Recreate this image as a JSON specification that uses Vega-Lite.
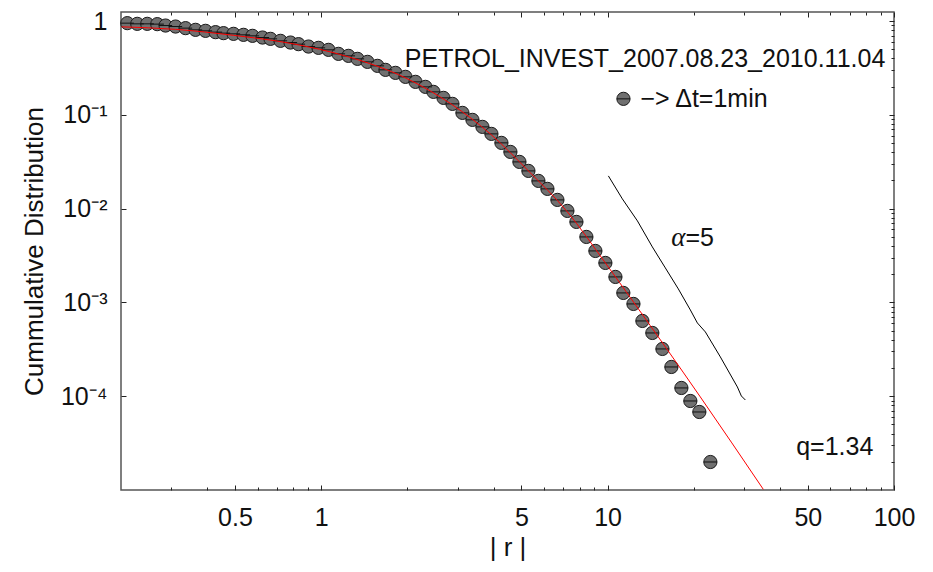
{
  "$schema": "https://vega.github.io/schema/vega-lite/v6.json",
  "width": 773,
  "height": 478,
  "autosize": "none",
  "padding": {"left": 121, "top": 12, "right": 39, "bottom": 82},
  "background": "white",
  "config": {
    "view": {"stroke": "#555555", "strokeWidth": 1.5},
    "axis": {
      "domain": false,
      "grid": false,
      "labelFont": "Liberation Sans",
      "titleFont": "Liberation Sans",
      "labelColor": "#111111",
      "titleColor": "#111111",
      "tickColor": "#222222",
      "tickWidth": 1,
      "labelFontSize": 25,
      "titleFontSize": 26,
      "titleFontWeight": "normal"
    }
  },
  "datasets": {
    "pts": [
      {"r": 0.2104, "p": 0.9508}, {"r": 0.2279, "p": 0.9347}, {"r": 0.2470, "p": 0.9347}, {"r": 0.2677, "p": 0.9279},
      {"r": 0.2861, "p": 0.8965}, {"r": 0.3101, "p": 0.8748}, {"r": 0.3360, "p": 0.8412}, {"r": 0.3641, "p": 0.8067},
      {"r": 0.3946, "p": 0.7870}, {"r": 0.4276, "p": 0.7624}, {"r": 0.4560, "p": 0.7440}, {"r": 0.4942, "p": 0.7311},
      {"r": 0.5355, "p": 0.7134}, {"r": 0.5757, "p": 0.6962}, {"r": 0.6239, "p": 0.6678}, {"r": 0.6653, "p": 0.6467},
      {"r": 0.7210, "p": 0.6158}, {"r": 0.7813, "p": 0.5906}, {"r": 0.8333, "p": 0.5677}, {"r": 0.9030, "p": 0.5352},
      {"r": 0.9786, "p": 0.5185}, {"r": 1.0604, "p": 0.4935}, {"r": 1.149, "p": 0.4473}, {"r": 1.245, "p": 0.4258},
      {"r": 1.339, "p": 0.3957}, {"r": 1.451, "p": 0.3675}, {"r": 1.572, "p": 0.3332}, {"r": 1.677, "p": 0.3020},
      {"r": 1.817, "p": 0.2805}, {"r": 1.969, "p": 0.2543}, {"r": 2.134, "p": 0.2249}, {"r": 2.312, "p": 0.1989},
      {"r": 2.466, "p": 0.1759}, {"r": 2.673, "p": 0.1518}, {"r": 2.873, "p": 0.1310}, {"r": 3.113, "p": 0.1050},
      {"r": 3.374, "p": 0.08846}, {"r": 3.656, "p": 0.07447}, {"r": 3.930, "p": 0.06270}, {"r": 4.259, "p": 0.05028},
      {"r": 4.578, "p": 0.04029}, {"r": 4.922, "p": 0.03152}, {"r": 5.291, "p": 0.02527}, {"r": 5.734, "p": 0.01977},
      {"r": 6.165, "p": 0.01625}, {"r": 6.680, "p": 0.01240}, {"r": 7.239, "p": 0.009462}, {"r": 7.783, "p": 0.007223},
      {"r": 8.433, "p": 0.004995}, {"r": 9.066, "p": 0.003541}, {"r": 9.824, "p": 0.002638}, {"r": 10.65, "p": 0.001871},
      {"r": 11.35, "p": 0.001263}, {"r": 12.31, "p": 0.0009638}, {"r": 13.23, "p": 0.0006349}, {"r": 14.33, "p": 0.0004727},
      {"r": 15.54, "p": 0.0003192}, {"r": 16.70, "p": 0.0002051}, {"r": 18.10, "p": 0.0001225}, {"r": 19.45, "p": 0.00008897},
      {"r": 20.91, "p": 0.00006792}, {"r": 22.85, "p": 0.00001989}
    ],
    "fit": [
      {"r": 0.2009, "p": 0.8683}, {"r": 0.3101, "p": 0.8166}, {"r": 0.4942, "p": 0.7047}, {"r": 0.7813, "p": 0.5790},
      {"r": 1.245, "p": 0.4156}, {"r": 1.969, "p": 0.2481}, {"r": 2.873, "p": 0.1278}, {"r": 3.930, "p": 0.06118},
      {"r": 5.291, "p": 0.02527}, {"r": 7.239, "p": 0.009232}, {"r": 9.824, "p": 0.002638}, {"r": 12.31, "p": 0.001012},
      {"r": 21.08, "p": 0.00009817}, {"r": 34.98, "p": 0.00001015}
    ],
    "alpha": [
      {"r": 10.064, "p": 0.02235}, {"r": 11.26, "p": 0.01271}, {"r": 12.71, "p": 0.007401}, {"r": 14.33, "p": 0.003908},
      {"r": 15.91, "p": 0.002333}, {"r": 17.66, "p": 0.001393}, {"r": 19.45, "p": 0.0008318}, {"r": 20.58, "p": 0.0006043},
      {"r": 21.95, "p": 0.0004844}, {"r": 24.76, "p": 0.0002623}, {"r": 28.39, "p": 0.0001255}, {"r": 29.31, "p": 0.0001006},
      {"r": 30.27, "p": 0.0000912}
    ],
    "legendMark": [{"r": 11.36, "p": 0.1482}],
    "rightText": [
      {"r": 93.24, "p": 0.3210, "t": "PETROL_INVEST_2007.08.23_2010.11.04"},
      {"r": 84.68, "p": 0.00002362, "t": "q=1.34"}
    ],
    "leftText": [
      {"r": 13.02, "p": 0.1217, "t": "−> Δt=1min"},
      {"r": 18.69, "p": 0.004006, "t": "=5"}
    ],
    "greek": [{"r": 18.69, "p": 0.004006, "t": "α"}]
  },
  "resolve": {"axis": {"x": "independent", "y": "independent"}},
  "layer": [
    {
      "data": {"name": "pts"},
      "mark": {"type": "point", "shape": "circle", "filled": true, "size": 175, "fill": "#707070", "stroke": "#1a1a1a", "strokeWidth": 1, "opacity": 1},
      "encoding": {
        "x": {
          "field": "r", "type": "quantitative",
          "scale": {"type": "log", "domain": [0.2, 100], "nice": false, "zero": false},
          "axis": {
            "orient": "bottom",
            "values": [0.5, 1, 5, 10, 50, 100],
            "labelExpr": "datum.value < 1 ? '0.5' : format(datum.value, 'd')",
            "tickSize": -5,
            "labelPadding": 20,
            "labelFlush": false,
            "title": "| r |",
            "titleY": 65,
            "titleBaseline": "alphabetic"
          }
        },
        "y": {
          "field": "p", "type": "quantitative",
          "scale": {"type": "log", "domain": [0.00001, 1.25], "nice": false, "zero": false},
          "axis": {
            "orient": "left",
            "values": [1, 0.1, 0.01, 0.001, 0.0001],
            "labelExpr": "datum.value > 0.5 ? '1' : '10' + '⁻' + ['', '¹', '²', '³', '⁴', '⁵'][round(-log(datum.value) / LN10)]",
            "tickSize": -5,
            "labelPadding": 19,
            "labelFlush": false,
            "title": "Cummulative Distribution",
            "titleX": -79,
            "titleAngle": 270,
            "titleBaseline": "alphabetic"
          }
        }
      }
    },
    {
      "data": {"name": "pts"},
      "mark": {"type": "point", "shape": "M-1,0L1,0", "filled": false, "size": 175, "stroke": "#111111", "strokeWidth": 1, "opacity": 1},
      "encoding": {
        "x": {
          "field": "r", "type": "quantitative",
          "scale": {"type": "log", "domain": [0.2, 100], "nice": false, "zero": false},
          "axis": {
            "orient": "bottom",
            "values": [0.3, 0.4, 0.6, 0.7, 0.8, 0.9, 2, 3, 4, 6, 7, 8, 9, 20, 30, 40, 60, 70, 80, 90],
            "tickSize": -3,
            "labels": false,
            "title": null
          }
        },
        "y": {
          "field": "p", "type": "quantitative",
          "scale": {"type": "log", "domain": [0.00001, 1.25], "nice": false, "zero": false},
          "axis": null
        }
      }
    },
    {
      "data": {"name": "fit"},
      "mark": {"type": "line", "color": "#ff0000", "strokeWidth": 1, "interpolate": "monotone", "clip": true},
      "encoding": {
        "x": {
          "field": "r", "type": "quantitative",
          "scale": {"type": "log", "domain": [0.2, 100], "nice": false, "zero": false},
          "axis": {"orient": "top", "values": [0.5, 1, 5, 10, 50, 100], "tickSize": -5, "labels": false, "title": null}
        },
        "y": {
          "field": "p", "type": "quantitative",
          "scale": {"type": "log", "domain": [0.00001, 1.25], "nice": false, "zero": false},
          "axis": {"orient": "right", "values": [1, 0.1, 0.01, 0.001, 0.0001], "tickSize": -5, "labels": false, "title": null}
        }
      }
    },
    {
      "data": {"name": "alpha"},
      "mark": {"type": "line", "color": "#000000", "strokeWidth": 1},
      "encoding": {
        "x": {
          "field": "r", "type": "quantitative",
          "scale": {"type": "log", "domain": [0.2, 100], "nice": false, "zero": false},
          "axis": {
            "orient": "top",
            "values": [0.3, 0.4, 0.6, 0.7, 0.8, 0.9, 2, 3, 4, 6, 7, 8, 9, 20, 30, 40, 60, 70, 80, 90],
            "tickSize": -3, "labels": false, "title": null
          }
        },
        "y": {
          "field": "p", "type": "quantitative",
          "scale": {"type": "log", "domain": [0.00001, 1.25], "nice": false, "zero": false},
          "axis": {
            "orient": "right",
            "values": [0.00002, 0.00003, 0.00004, 0.00005, 0.00006, 0.00007, 0.00008, 0.00009,
                       0.0002, 0.0003, 0.0004, 0.0005, 0.0006, 0.0007, 0.0008, 0.0009,
                       0.002, 0.003, 0.004, 0.005, 0.006, 0.007, 0.008, 0.009,
                       0.02, 0.03, 0.04, 0.05, 0.06, 0.07, 0.08, 0.09,
                       0.2, 0.3, 0.4, 0.5, 0.6, 0.7, 0.8, 0.9],
            "tickSize": -3, "labels": false, "title": null
          }
        }
      }
    },
    {
      "data": {"name": "legendMark"},
      "mark": {"type": "point", "shape": "circle", "filled": true, "size": 175, "fill": "#707070", "stroke": "#1a1a1a", "strokeWidth": 1, "opacity": 1},
      "encoding": {
        "x": {"field": "r", "type": "quantitative", "scale": {"type": "log", "domain": [0.2, 100], "nice": false, "zero": false}, "axis": null},
        "y": {"field": "p", "type": "quantitative", "scale": {"type": "log", "domain": [0.00001, 1.25], "nice": false, "zero": false}, "axis": null}
      }
    },
    {
      "data": {"name": "legendMark"},
      "mark": {"type": "point", "shape": "M-1,0L1,0", "filled": false, "size": 175, "stroke": "#111111", "strokeWidth": 1, "opacity": 1},
      "encoding": {
        "x": {"field": "r", "type": "quantitative", "scale": {"type": "log", "domain": [0.2, 100], "nice": false, "zero": false}, "axis": null},
        "y": {"field": "p", "type": "quantitative", "scale": {"type": "log", "domain": [0.00001, 1.25], "nice": false, "zero": false}, "axis": null}
      }
    },
    {
      "data": {"name": "rightText"},
      "mark": {"type": "text", "align": "right", "baseline": "alphabetic", "font": "Liberation Sans", "fontSize": 25, "color": "#111111"},
      "encoding": {
        "x": {"field": "r", "type": "quantitative", "scale": {"type": "log", "domain": [0.2, 100], "nice": false, "zero": false}, "axis": null},
        "y": {"field": "p", "type": "quantitative", "scale": {"type": "log", "domain": [0.00001, 1.25], "nice": false, "zero": false}, "axis": null},
        "text": {"field": "t"}
      }
    },
    {
      "data": {"name": "leftText"},
      "mark": {"type": "text", "align": "left", "baseline": "alphabetic", "font": "Liberation Sans", "fontSize": 25, "color": "#111111"},
      "encoding": {
        "x": {"field": "r", "type": "quantitative", "scale": {"type": "log", "domain": [0.2, 100], "nice": false, "zero": false}, "axis": null},
        "y": {"field": "p", "type": "quantitative", "scale": {"type": "log", "domain": [0.00001, 1.25], "nice": false, "zero": false}, "axis": null},
        "text": {"field": "t"}
      }
    },
    {
      "data": {"name": "greek"},
      "mark": {"type": "text", "align": "right", "baseline": "alphabetic", "font": "Liberation Serif", "fontStyle": "italic", "fontSize": 27, "color": "#111111"},
      "encoding": {
        "x": {"field": "r", "type": "quantitative", "scale": {"type": "log", "domain": [0.2, 100], "nice": false, "zero": false}, "axis": null},
        "y": {"field": "p", "type": "quantitative", "scale": {"type": "log", "domain": [0.00001, 1.25], "nice": false, "zero": false}, "axis": null},
        "text": {"field": "t"}
      }
    }
  ]
}
